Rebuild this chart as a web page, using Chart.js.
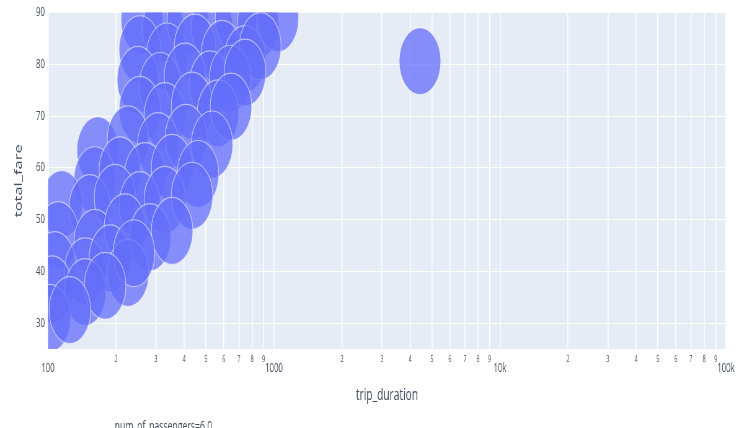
<!DOCTYPE html>
<html>
<head>
<meta charset="utf-8">
<script src="https://cdn.jsdelivr.net/npm/chart.js@4/dist/chart.umd.min.js"></script>
<style>
  html, body { margin: 0; padding: 0; background: #ffffff; overflow: hidden; }
  #frame { width: 739px; height: 428px; overflow: hidden; position: relative; }
  /* the figure is laid out wide and squeezed horizontally */
  #wrap { width: 1192px; height: 428px; transform: scaleX(0.61997); transform-origin: 0 0; }
  canvas { display: block; }
</style>
</head>
<body>
<div id="frame"><div id="wrap"><canvas id="c" width="1192" height="428"></canvas></div></div>
<script>
// Trips with six passengers: duration (s) against total fare
const tripDuration = [
  260, 323, 416, 532, 679, 850, 1040,
  255, 336, 447, 589, 744, 870,
  250, 313, 404, 521, 640, 745,
  255, 329, 434, 565, 645,
  166, 226, 307, 408, 532,
  161, 208, 269, 354, 461,
  115, 153, 198, 255, 329, 434,
  111, 161, 219, 283, 354,
  107, 146, 188, 226, 240,
  104, 146, 179,
  102, 125,
  4426
];
const totalFare = [
  88.5, 86.9, 88.2, 87.0, 88.8, 87.6, 88.9,
  82.9, 81.5, 83.2, 82.0, 81.0, 83.5,
  77.0, 75.8, 77.6, 76.1, 77.2, 78.4,
  71.2, 70.0, 72.0, 70.5, 71.8,
  63.4, 65.5, 64.2, 65.8, 64.5,
  57.6, 59.5, 58.4, 60.0, 58.8,
  53.0, 52.2, 54.2, 52.8, 53.8, 54.6,
  47.0, 45.5, 48.5, 46.6, 47.8,
  41.2, 40.0, 42.5, 39.7, 43.5,
  36.5, 36.0, 37.2,
  31.0, 32.5,
  80.6
];
const seriesName = 'num_of_passengers=6.0';

// Axis ticks
const xMajorTicks = [100, 1000, 10000, 100000];
const xMajorLabels = ['100', '1000', '10k', '100k'];
const xMinorDigits = [2, 3, 4, 5, 6, 7, 8, 9];
const yTickValues = [30, 40, 50, 60, 70, 80, 90];

const TEXT = '#3f4a5a';
const FONT = '"Open Sans", "DejaVu Sans", sans-serif';

const points = tripDuration.map((d, i) => ({ x: d, y: totalFare[i], r: 33.5 }));

const xTicks = [];
xMajorTicks.forEach((v, i) => {
  xTicks.push({ value: v, major: true, text: xMajorLabels[i] });
  if (i < xMajorTicks.length - 1) {
    xMinorDigits.forEach(d => xTicks.push({ value: v * d, major: false, text: String(d) }));
  }
});

const plotBackground = {
  id: 'plotBackground',
  beforeDraw(chart) {
    const { ctx, chartArea: a } = chart;
    ctx.save();
    ctx.fillStyle = '#E5ECF6';
    ctx.fillRect(a.left, a.top, a.right - a.left, a.bottom - a.top);
    ctx.restore();
  }
};

const seriesCaption = {
  id: 'seriesCaption',
  afterDraw(chart) {
    const ctx = chart.ctx;
    ctx.save();
    ctx.font = '14px ' + FONT;
    ctx.fillStyle = TEXT;
    ctx.textBaseline = 'alphabetic';
    ctx.textAlign = 'left';
    ctx.fillText(chart.data.datasets[0].label, 185, 431);
    ctx.restore();
  }
};

new Chart(document.getElementById('c'), {
  type: 'bubble',
  data: {
    datasets: [{
      label: seriesName,
      data: points,
      backgroundColor: 'rgba(99,110,250,0.75)',
      borderColor: 'rgba(255,255,255,0.55)',
      borderWidth: 1.2,
      clip: 0
    }]
  },
  options: {
    responsive: false,
    devicePixelRatio: 1,
    animation: false,
    layout: { autoPadding: false, padding: { top: 12, right: 21, bottom: 0, left: 0 } },
    plugins: { legend: { display: false }, tooltip: { enabled: false } },
    scales: {
      x: {
        type: 'logarithmic',
        min: 100,
        max: 100000,
        afterBuildTicks: s => { s.ticks = xTicks.map(t => ({ value: t.value, major: t.major })); },
        afterFit: s => { s.height = 79; },
        border: { display: false },
        grid: { color: '#ffffff', lineWidth: 1.6, drawTicks: false },
        ticks: {
          autoSkip: false,
          maxRotation: 0,
          padding: 5,
          color: TEXT,
          font: ctx => (ctx.tick && ctx.tick.major)
            ? { family: FONT, size: 12.5, lineHeight: 0.75 }
            : { family: FONT, size: 8.5, lineHeight: 1.2 },
          callback: (value, index) => {
            const t = xTicks[index];
            return t.major ? ['', t.text] : t.text;
          }
        },
        title: {
          display: true,
          text: 'trip_duration',
          color: TEXT,
          font: { family: FONT, size: 16.5, lineHeight: 1.2 },
          padding: { top: 0, bottom: 23 }
        }
      },
      y: {
        min: 25,
        max: 90,
        afterBuildTicks: s => { s.ticks = yTickValues.map(v => ({ value: v })); },
        afterFit: s => { s.width = 77.4; },
        border: { display: false },
        grid: { color: '#ffffff', lineWidth: 1, drawTicks: false },
        ticks: {
          padding: 5,
          color: TEXT,
          font: { family: FONT, size: 12.5 },
          callback: v => String(v)
        },
        title: {
          display: true,
          text: 'total_fare',
          color: TEXT,
          font: { family: FONT, size: 16.5, lineHeight: 1.2 },
          padding: { top: 20, bottom: 0 }
        }
      }
    }
  },
  plugins: [plotBackground, seriesCaption]
});
</script>
</body>
</html>
